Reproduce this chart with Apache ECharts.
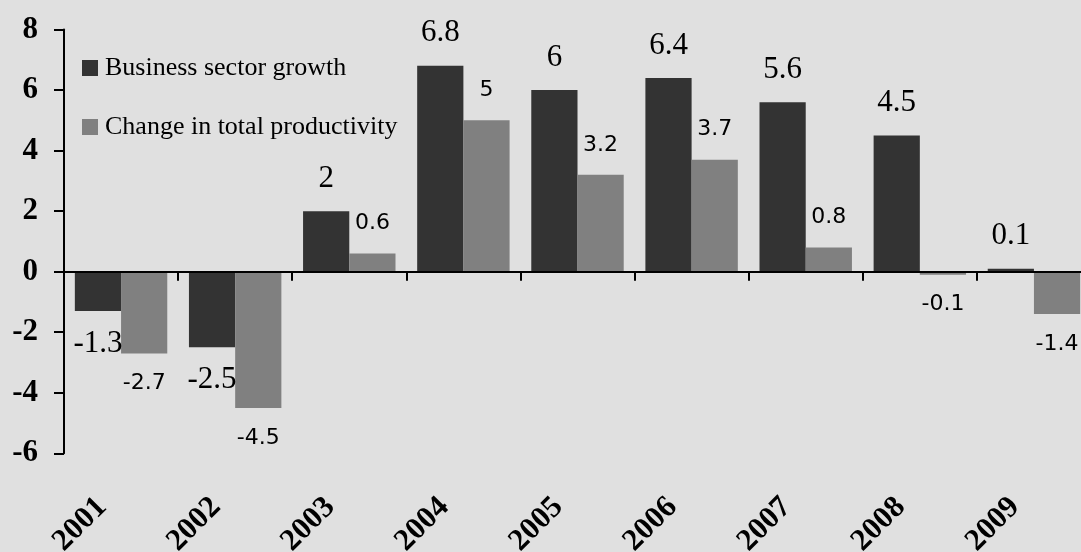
<!DOCTYPE html>
<html>
<head>
<meta charset="utf-8">
<script src="https://cdn.jsdelivr.net/npm/echarts@6/dist/echarts.min.js"></script>
<style>
  html, body { margin: 0; padding: 0; background: #e0e0e0; }
  #chart { width: 1081px; height: 552px; }
</style>
</head>
<body>
<div id="chart"></div>
<script>
// Annual figures, percent
const years = ['2001', '2002', '2003', '2004', '2005', '2006', '2007', '2008', '2009'];
const businessGrowth = [-1.3, -2.5, 2, 6.8, 6, 6.4, 5.6, 4.5, 0.1];
const productivityChange = [-2.7, -4.5, 0.6, 5, 3.2, 3.7, 0.8, -0.1, -1.4];
const seriesNames = ['Business sector growth', 'Change in total productivity'];

const serif = '"Liberation Serif", "Times New Roman", serif';
const sans = '"DejaVu Sans", Verdana, sans-serif';

// Labels sit above positive bars and below negative ones
function withLabelSide(values) {
  return values.map(v => ({ value: v, label: { position: v < 0 ? 'bottom' : 'top' } }));
}

const chart = echarts.init(document.getElementById('chart'), null, { renderer: 'canvas' });

chart.setOption({
  backgroundColor: '#e0e0e0',
  animation: false,
  legend: {
    orient: 'vertical',
    left: 77,
    top: 50,
    itemWidth: 16,
    itemHeight: 16,
    itemGap: 33,
    icon: 'rect',
    textStyle: { fontFamily: serif, fontSize: 26, color: '#000', padding: [0, 0, 0, 2] },
    data: seriesNames
  },
  grid: {
    left: 64,
    right: -10,
    top: 29.5,
    bottom: 98.7,
    containLabel: false,
    outerBoundsMode: 'none'
  },
  xAxis: [
    {
      // axis line through zero with boundary ticks
      type: 'category',
      data: years,
      position: 'bottom',
      z: 10,
      axisLine: { onZero: true, lineStyle: { color: '#000', width: 2 } },
      axisTick: { show: true, length: 9, lineStyle: { color: '#000', width: 2 } },
      axisLabel: { show: false },
      splitLine: { show: false }
    },
    {
      // year labels along the bottom edge
      type: 'category',
      data: years,
      position: 'bottom',
      axisLine: { show: false, onZero: false },
      axisTick: { show: false },
      splitLine: { show: false },
      axisLabel: {
        rotate: 45,
        margin: 30,
        padding: [0, 27, 0, 0],
        fontFamily: serif,
        fontWeight: 'bold',
        fontSize: 31,
        color: '#000'
      }
    }
  ],
  yAxis: {
    type: 'value',
    min: -6,
    max: 8,
    interval: 2,
    axisLine: { show: true, lineStyle: { color: '#000', width: 2 } },
    axisTick: { show: true, length: 10, lineStyle: { color: '#000', width: 2 } },
    splitLine: { show: false },
    axisLabel: {
      margin: 26,
      fontFamily: serif,
      fontWeight: 'bold',
      fontSize: 31,
      color: '#000'
    }
  },
  series: [
    {
      name: seriesNames[0],
      type: 'bar',
      xAxisIndex: 0,
      data: withLabelSide(businessGrowth),
      barGap: '0%',
      barCategoryGap: '19%',
      itemStyle: { color: '#333333' },
      label: {
        show: true,
        distance: 17,
        fontFamily: serif,
        fontSize: 31,
        color: '#000'
      }
    },
    {
      name: seriesNames[1],
      type: 'bar',
      xAxisIndex: 0,
      data: withLabelSide(productivityChange),
      barGap: '0%',
      barCategoryGap: '19%',
      itemStyle: { color: '#808080' },
      label: {
        show: true,
        distance: 19,
        fontFamily: sans,
        fontSize: 22,
        color: '#000'
      }
    }
  ]
});
</script>
</body>
</html>
